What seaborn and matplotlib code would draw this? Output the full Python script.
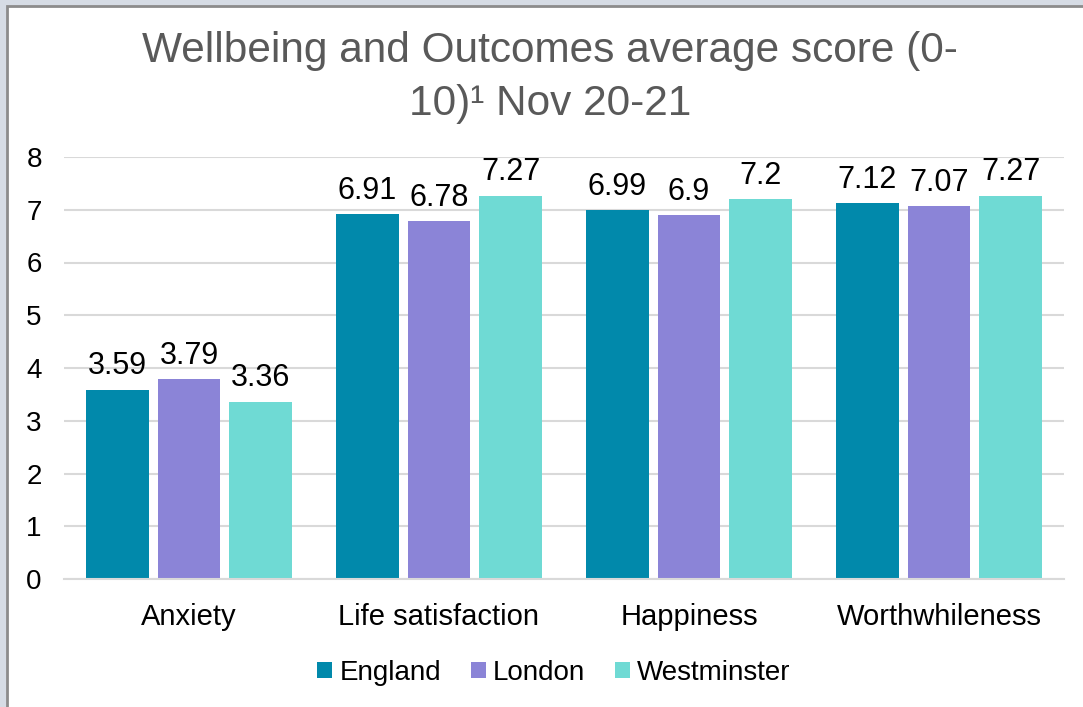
import matplotlib
matplotlib.use("Agg")
import matplotlib.pyplot as plt
import seaborn as sns
import pandas as pd
from matplotlib.patches import Rectangle

categories = ["Anxiety", "Life satisfaction", "Happiness", "Worthwhileness"]
series_names = ["England", "London", "Westminster"]
england = [3.59, 6.91, 6.99, 7.12]
london = [3.79, 6.78, 6.9, 7.07]
westminster = [3.36, 7.27, 7.2, 7.27]
colors = ["#0189AB", "#8B84D7", "#6FDAD4"]
yticks = [0, 1, 2, 3, 4, 5, 6, 7, 8]

rows = []
for name, vals in zip(series_names, [england, london, westminster]):
    for c, v in zip(categories, vals):
        rows.append({"category": c, "series": name, "value": v})
df = pd.DataFrame(rows)

sns.set_theme(style="white")
plt.rcParams["font.family"] = ["Liberation Sans", "DejaVu Sans"]

W, H = 1083, 707
fig = plt.figure(figsize=(W / 100, H / 100), dpi=100)
fig.patch.set_facecolor("#D6DCE5")
# white chart area with grey border
fig.patches.append(Rectangle((7 / W, -0.05), 1.1, 1 - 6 / H + 0.05, transform=fig.transFigure,
                             facecolor="white", edgecolor="#8C8C8C", linewidth=2, zorder=-10))

ax = fig.add_axes([64 / W, 1 - 579 / H, 1000 / W, (579 - 157) / H])
ax.set_facecolor("none")
sns.barplot(data=df, x="category", y="value", hue="series", order=categories,
            hue_order=series_names, palette=colors, width=0.86, gap=0.13,
            saturation=1, ax=ax, legend=True, edgecolor="none")

ax.set_ylim(0, 8)
ax.set_yticks(yticks)
ax.set_xlim(-0.5, len(categories) - 0.5)
ax.yaxis.grid(True, color="#D9D9D9", linewidth=1.5)
ax.set_axisbelow(True)
for s in ["top", "right", "left"]:
    ax.spines[s].set_visible(False)
ax.spines["bottom"].set_color("#D9D9D9")
ax.spines["bottom"].set_linewidth(1.5)
ax.tick_params(axis="both", length=0, colors="black")
ax.tick_params(axis="x", pad=17, labelsize=21)
ax.tick_params(axis="y", pad=16, labelsize=20)
ax.set_xlabel("")
ax.set_ylabel("")

for cont in ax.containers:
    ax.bar_label(cont, labels=[f"{v:g}" for v in cont.datavalues], padding=6, fontsize=22, color="black")

leg = ax.legend(loc="center", bbox_to_anchor=(554 / W, 1 - 673 / H), bbox_transform=fig.transFigure,
                ncol=3, frameon=False, fontsize=20, handlelength=0.54, handleheight=0.54,
                handletextpad=0.25, columnspacing=1.08)
for t in leg.get_texts():
    t.set_color("black")

fig.text(550 / W, 1 - 51 / H, "Wellbeing and Outcomes average score (0-", ha="center", va="center",
         fontsize=30.5, color="#595959")
fig.text(550 / W, 1 - 104 / H, "10)¹ Nov 20-21", ha="center", va="center",
         fontsize=30.5, color="#595959")

fig.savefig("out.png", dpi=100, facecolor=fig.get_facecolor())
